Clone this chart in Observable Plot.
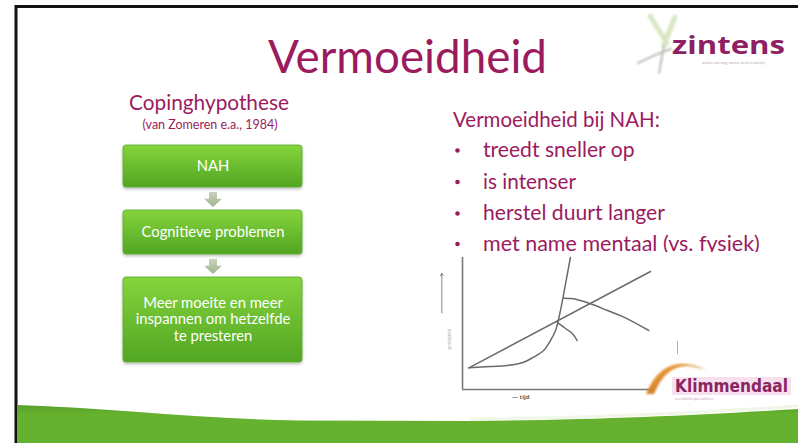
<!DOCTYPE html>
<html><head><meta charset="utf-8">
<script src="https://cdn.jsdelivr.net/npm/d3@7"></script>
<script src="https://cdn.jsdelivr.net/npm/@observablehq/plot@0.6"></script>
<style>
html,body{margin:0;padding:0;background:#fff;}
#slide{position:relative;width:798px;height:443px;overflow:hidden;background:#fff;}
#deco,#logos{position:absolute;left:0;top:0;}
#chart{position:absolute;left:432px;top:252px;}
</style></head><body>
<div id="slide"><svg id="deco" width="798" height="443"></svg><div id="chart"></div><svg id="logos" width="798" height="443"></svg></div>
<script>
// ---------- data ----------
const title = "Vermoeidheid";
const leftHeading = "Copinghypothese";
const citation = "(van Zomeren e.a., 1984)";
const flowSteps = [["NAH"], ["Cognitieve problemen"], ["Meer moeite en meer", "inspannen om hetzelfde", "te presteren"]];
const rightHeading = "Vermoeidheid bij NAH:";
const bullets = ["treedt sneller op", "is intenser", "herstel duurt langer", "met name mentaal (vs. fysiek)"];
const xLabel = "— tijd";
const yLabel = "prestatie";

const seriesNames = ["lineair", "exponentieel", "afbuiging boven", "afbuiging onder"];
const seriesTime = [
  [3.4, 100],
  [3.4, 14.9, 23.8, 32.6, 37.8, 43.1, 46.8, 49.5, 52.1, 54.8, 57.4],
  [53.9, 59.2, 68.1, 77.1, 85.8, 99.1],
  [50.4, 54.8, 58.4, 61.0]
];
const seriesPerf = [
  [16.4, 89.4],
  [16.4, 17.4, 18.2, 20.7, 24.5, 29.5, 37.1, 44.7, 59.8, 80, 100],
  [69.2, 68.7, 64.9, 59.8, 54.8, 44.7],
  [50.8, 46.2, 42.4, 37.1]
];

// ---------- helpers ----------
const purple = "#9b1b5e";
const FAM = "Lato, 'Open Sans', sans-serif";
const cv = document.createElement("canvas").getContext("2d");
function fitSize(text, width, weight = "normal", fam = FAM) {
  cv.font = `${weight} 100px ${fam}`;
  return 100 * width / cv.measureText(text).width;
}

const deco = d3.select("#deco");
const defs = deco.append("defs");
const g1 = defs.append("linearGradient").attr("id", "boxg").attr("x1", 0).attr("y1", 0).attr("x2", 0).attr("y2", 1);
g1.append("stop").attr("offset", "0%").attr("stop-color", "#84d43c");
g1.append("stop").attr("offset", "100%").attr("stop-color", "#52a623");
const g2 = defs.append("linearGradient").attr("id", "arrg").attr("x1", 0).attr("y1", 0).attr("x2", 0).attr("y2", 1);
g2.append("stop").attr("offset", "0%").attr("stop-color", "#c9d3bd");
g2.append("stop").attr("offset", "100%").attr("stop-color", "#9fb48a");
const f = defs.append("filter").attr("id", "sh").attr("x", "-10%").attr("y", "-10%").attr("width", "120%").attr("height", "130%");
f.append("feDropShadow").attr("dx", 0).attr("dy", 1.5).attr("stdDeviation", 1.5).attr("flood-color", "#000").attr("flood-opacity", 0.3);

// slide frame
deco.append("path").attr("d", "M16,443 V6.5 H798").attr("fill", "none").attr("stroke", "#111").attr("stroke-width", 3);

// green band
const gb = defs.append("linearGradient").attr("id", "band").attr("x1", 0).attr("y1", 0).attr("x2", 0).attr("y2", 1);
gb.append("stop").attr("offset", "0%").attr("stop-color", "#5a9f2a");
gb.append("stop").attr("offset", "25%").attr("stop-color", "#66b22f");
gb.append("stop").attr("offset", "100%").attr("stop-color", "#64b030");
deco.append("path").attr("d", "M17.5,405 C110,408 200,419 300,420.5 L470,421 C600,420 700,415 798,409 L798,443 L17.5,443 Z").attr("fill", "url(#band)");
deco.append("path").attr("d", "M470,419 C600,418 700,413 798,406").attr("fill", "none").attr("stroke", "#e9f3df").attr("stroke-width", 3).attr("opacity", 0.7);

// title
const tSize = fitSize(title, 279);
deco.append("text").attr("x", 407.5).attr("y", 73).attr("text-anchor", "middle").attr("font-family", FAM).attr("font-size", tSize).attr("fill", purple).text(title);

// left heading
deco.append("text").attr("x", 209).attr("y", 110).attr("text-anchor", "middle").attr("font-family", FAM).attr("font-size", fitSize(leftHeading, 160)).attr("fill", purple).text(leftHeading);
deco.append("text").attr("x", 210).attr("y", 129).attr("text-anchor", "middle").attr("font-family", FAM).attr("font-size", fitSize(citation, 135)).attr("fill", purple).text(citation);

// flow boxes
const boxTops = [145, 210, 277], boxBottoms = [187, 254, 362];
const boxText = fitSize("Cognitieve problemen", 143);
flowSteps.forEach((lines, i) => {
  const y0 = boxTops[i], y1 = boxBottoms[i];
  deco.append("rect").attr("x", 123).attr("y", y0).attr("width", 179).attr("height", y1 - y0).attr("rx", 3).attr("fill", "url(#boxg)").attr("stroke", "#5aa82a").attr("stroke-width", 0.8).attr("filter", "url(#sh)");
  const mid = (y0 + y1) / 2, lh = 16.7;
  lines.forEach((l, j) => {
    deco.append("text").attr("x", 213).attr("y", mid + (j - (lines.length - 1) / 2) * lh + boxText * 0.33).attr("text-anchor", "middle").attr("font-family", FAM).attr("font-size", boxText).attr("fill", "#fff").text(l);
  });
  if (i < flowSteps.length - 1) {
    const a0 = y1 + 5, a1 = boxTops[i + 1] - 3;
    const h = a1 - a0;
    deco.append("path").attr("d", `M209,${a0} H217 V${a0 + h * 0.45} H222 L213,${a1} L204,${a0 + h * 0.45} H209 Z`).attr("fill", "url(#arrg)");
  }
});

// right text
deco.append("text").attr("x", 453).attr("y", 127).attr("font-family", FAM).attr("font-size", fitSize(rightHeading, 207)).attr("fill", purple).text(rightHeading);
const bulletWidths = [152, 93, 182, 277];
const bulletBase = [157, 188.5, 220, 250.5];
bullets.forEach((b, i) => {
  const fs = fitSize(b, bulletWidths[i]);
  deco.append("circle").attr("cx", 457.5).attr("cy", bulletBase[i] - 6.5).attr("r", 2.3).attr("fill", purple);
  deco.append("text").attr("x", 483).attr("y", bulletBase[i]).attr("font-family", FAM).attr("font-size", fs).attr("fill", purple).text(b);
});

// ---------- chart ----------
const rows = seriesNames.flatMap((name, i) => seriesTime[i].map((t, j) => ({serie: name, t, v: seriesPerf[i][j]})));
const axisArrow = [{x: -11, y1: 58, y2: 88}];
const labelX = [{x: 31, y: -6, label: xLabel}];
const labelY = [{x: -7, y: 38, label: yLabel}];
const chart = Plot.plot({
  width: 330, height: 152,
  marginLeft: 30, marginRight: 112, marginTop: 5, marginBottom: 15,
  x: {domain: [0, 100], axis: null},
  y: {domain: [0, 100], axis: null},
  style: {background: "white", overflow: "visible"},
  marks: [
    Plot.ruleX([0], {stroke: "#777", strokeWidth: 1.6}),
    Plot.ruleY([0], {stroke: "#777", strokeWidth: 1.6}),
    Plot.line(rows, {x: "t", y: "v", z: "serie", curve: "catmull-rom", stroke: "#6a6a6a", strokeWidth: 1.5}),
    Plot.arrow(axisArrow, {x1: "x", x2: "x", y1: "y1", y2: "y2", stroke: "#888", strokeWidth: 1, headLength: 4}),
    Plot.text(labelX, {x: "x", y: "y", text: "label", fontSize: 6, fill: "#666", fontWeight: "bold"}),
    Plot.text(labelY, {x: "x", y: "y", text: "label", fontSize: 5, fill: "#aaa", rotate: -90})
  ]
});
document.getElementById("chart").appendChild(chart);

// ---------- logos ----------
const logos = d3.select("#logos");
const ld = logos.append("defs");
const og = ld.append("linearGradient").attr("id", "orng").attr("x1", 0).attr("y1", 0).attr("x2", 1).attr("y2", 1);
og.append("stop").attr("offset", "0%").attr("stop-color", "#f5b040");
og.append("stop").attr("offset", "100%").attr("stop-color", "#b4561a");
const bl = ld.append("filter").attr("id", "blur");
bl.append("feGaussianBlur").attr("stdDeviation", 1.3);

// zintens
logos.append("path").attr("d", "M650,16 L667,43 M675,17 L664,45").attr("stroke", "#d3e2b8").attr("stroke-width", 5).attr("stroke-linecap", "round").attr("fill", "none").attr("opacity", 0.85).attr("filter", "url(#blur)");
logos.append("path").attr("d", "M664,46 L659,73 M638,63 C649,58 658,53 671,49").attr("stroke", "#b1b1a8").attr("stroke-width", 2).attr("stroke-linecap", "round").attr("fill", "none").attr("opacity", 0.85).attr("filter", "url(#blur)");
logos.append("text").attr("x", 672).attr("y", 54).attr("font-family", "'Open Sans', Lato, sans-serif").attr("font-weight", "bold").attr("font-size", 24.5).attr("textLength", 113).attr("lengthAdjust", "spacingAndGlyphs").attr("fill", "#8e1f63").text("zintens");
logos.append("text").attr("x", 702).attr("y", 64).attr("font-family", FAM).attr("font-size", 3.5).attr("fill", "#b9a7b2").text("werken aan zorg, wonen, werk en welzijn");

// klimmendaal
logos.append("line").attr("x1", 677.5).attr("x2", 677.5).attr("y1", 341).attr("y2", 354).attr("stroke", "#999").attr("stroke-width", 0.8);
logos.append("rect").attr("x", 672).attr("y", 377).attr("width", 119).attr("height", 18).attr("fill", "#f7e1ee");
logos.append("path").attr("d", "M646,394 Q664,350 706,370 Q700,368 690,366 Q666,364 654,394 Z").attr("fill", "url(#orng)").attr("filter", "url(#blur)");
logos.append("text").attr("x", 675).attr("y", 392).attr("font-family", "'DejaVu Sans Condensed', 'DejaVu Sans', sans-serif").attr("font-weight", "bold").attr("font-size", fitSize("Klimmendaal", 113, "bold", "'DejaVu Sans Condensed', 'DejaVu Sans', sans-serif")).attr("fill", "#8a2462").text("Klimmendaal");
logos.append("text").attr("x", 675).attr("y", 400).attr("font-family", FAM).attr("font-size", 4).attr("fill", "#caa6bb").text("revalidatiespecialisten");
</script>
</body></html>
